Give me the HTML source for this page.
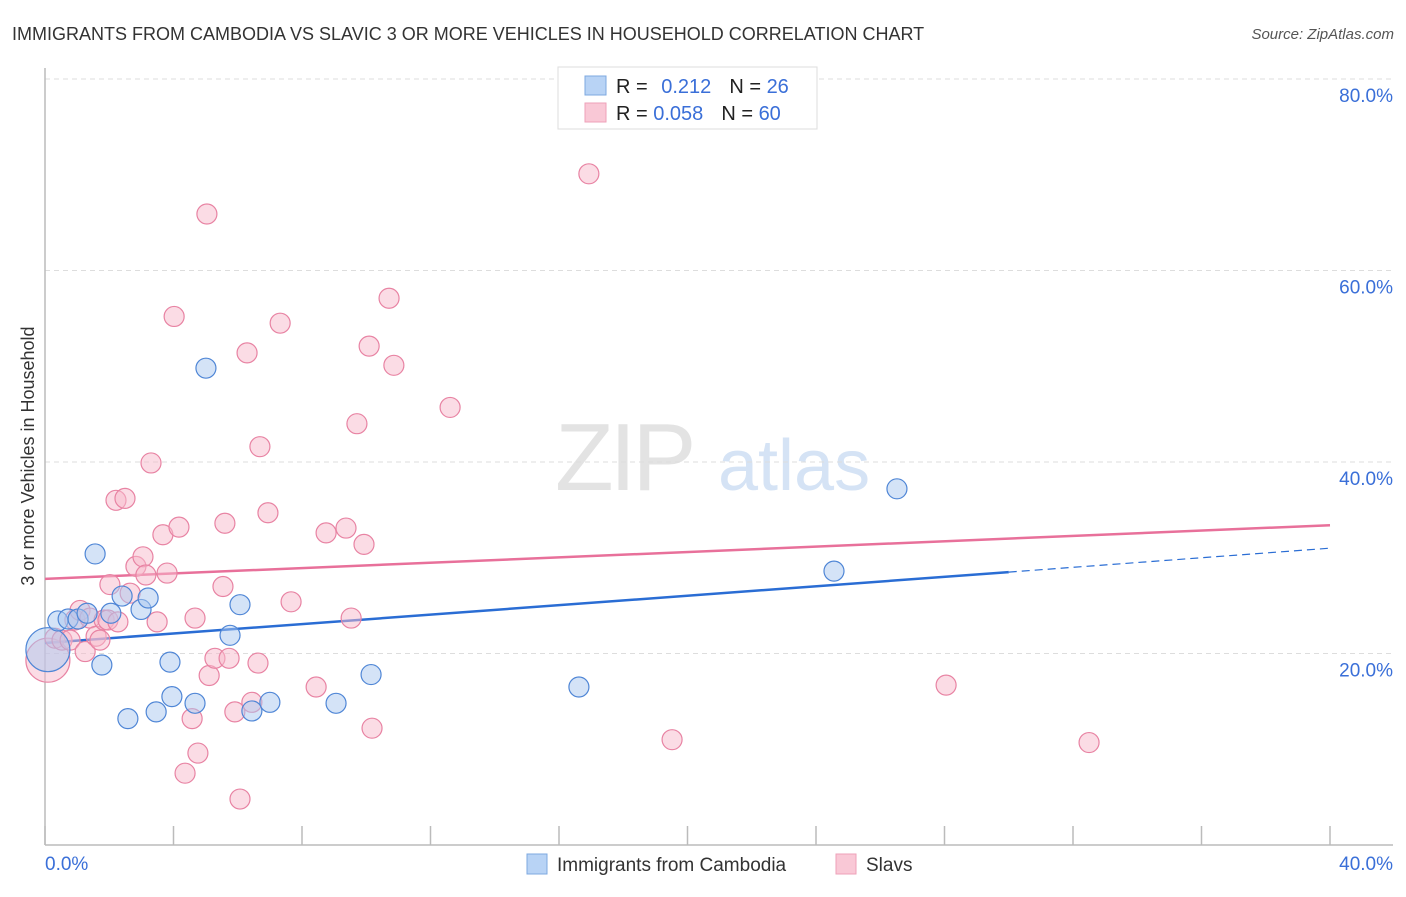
<!DOCTYPE html>
<html><head><meta charset="utf-8"><style>
body{margin:0;background:#fff;font-family:"Liberation Sans",sans-serif}
svg text{font-family:"Liberation Sans",sans-serif}
</style></head><body>
<svg id="c" width="1406" height="892">
<text x="12" y="40" font-size="18" fill="#333">IMMIGRANTS FROM CAMBODIA VS SLAVIC 3 OR MORE VEHICLES IN HOUSEHOLD CORRELATION CHART</text>
<text x="1394" y="39" font-size="15" fill="#555" text-anchor="end" font-style="italic">Source: ZipAtlas.com</text>
<g><text x="555" y="490" font-size="96" fill="#e3e3e3" font-family="Liberation Serif" letter-spacing="-4">ZIP</text><text x="718" y="490" font-size="72" fill="#d5e3f5">atlas</text></g>
<g id="grid"></g><g id="axes"></g><g id="lines"></g><g id="pts"></g>
<text transform="translate(34,456) rotate(-90)" font-size="18" fill="#333" text-anchor="middle">3 or more Vehicles in Household</text>
<g>
<rect x="558" y="67" width="259" height="62" fill="#fff" stroke="#ddd"/>
<rect x="585" y="76" width="21" height="19" fill="#b8d3f5" stroke="#7ea8e0"/>
<rect x="585" y="103" width="21" height="19" fill="#f9c8d6" stroke="#eea1b8"/>
<text x="616" y="93" font-size="20" fill="#222">R = <tspan fill="#3a6fd8" dx="8">0.212</tspan><tspan dx="18" fill="#222">N = </tspan><tspan fill="#3a6fd8">26</tspan></text>
<text x="616" y="120" font-size="20" fill="#222">R = <tspan fill="#3a6fd8">0.058</tspan><tspan dx="18" fill="#222">N = </tspan><tspan fill="#3a6fd8">60</tspan></text>
</g>
<g>
<rect x="527" y="854" width="20" height="20" fill="#b8d3f5" stroke="#7ea8e0"/>
<text x="557" y="871" font-size="19" fill="#333">Immigrants from Cambodia</text>
<rect x="836" y="854" width="20" height="20" fill="#f9c8d6" stroke="#eea1b8"/>
<text x="866" y="871" font-size="19" fill="#333">Slavs</text>
</g>
</svg>
<script>
const blueX=[0.09,0.40,0.72,1.03,1.31,1.56,1.77,2.05,2.40,2.58,2.99,3.21,3.46,3.89,3.95,4.67,5.01,5.76,6.07,6.44,7.00,9.06,10.15,16.62,24.56,26.52];
const blueY=[20.4,23.4,23.6,23.6,24.2,30.4,18.8,24.2,26.0,13.2,24.6,25.8,13.9,19.1,15.5,14.8,49.8,21.9,25.1,14.0,14.9,14.8,17.8,16.5,28.6,37.2];
const pinkX=[0.09,0.31,0.53,0.78,0.93,1.09,1.25,1.40,1.59,1.71,1.84,1.96,2.02,2.21,2.27,2.49,2.65,2.83,3.05,3.14,3.30,3.49,3.67,3.80,4.02,4.17,4.36,4.58,4.67,4.76,5.04,5.11,5.29,5.54,5.60,5.73,5.91,6.07,6.29,6.44,6.63,6.69,6.94,7.32,7.66,8.44,8.75,9.37,9.53,9.71,9.93,10.09,10.18,10.71,10.86,12.61,16.93,19.52,28.05,32.50];
const pinkY=[19.3,21.6,21.4,21.4,23.5,24.5,20.2,23.7,21.8,21.4,23.5,23.5,27.2,36.0,23.3,36.2,26.3,29.1,30.1,28.2,39.9,23.3,32.4,28.4,55.2,33.2,7.5,13.2,23.7,9.6,65.9,17.7,19.5,27.0,33.6,19.5,13.9,4.8,51.4,14.9,19.0,41.6,34.7,54.5,25.4,16.5,32.6,33.1,23.7,44.0,31.4,52.1,12.2,57.1,50.1,45.7,70.1,11.0,16.7,10.7];
const yTicks=[20,40,60,80];
const yTickLabels=["20.0%","40.0%","60.0%","80.0%"];
const xTicks=[0,4,8,12,16,20,24,28,32,36,40];
const blueTrend=[21.1,28.5,31.0]; // at x=0, 30, 40
const pinkTrend=[27.8,33.4]; // at x=0, 40
const X=v=>45+v/40*1285, Y=v=>845-v/20*191.5;
const NS="http://www.w3.org/2000/svg";
function mk(p,t,a){const e=document.createElementNS(NS,t);for(const k in a)e.setAttribute(k,a[k]);document.getElementById(p).appendChild(e);return e;}
yTicks.forEach((t,i)=>{
 let l=mk('grid','line',{x1:45,x2:1393,y1:Y(t),y2:Y(t),stroke:'#ddd','stroke-dasharray':'5,4'});
 
 
 let tx=mk('grid','text',{x:1393,y:Y(t)+23,'font-size':19,fill:'#3a6fd8','text-anchor':'end'});tx.textContent=yTickLabels[i];
 
 
});
let ax=mk('axes','line',{x1:45,x2:45,y1:68,y2:845,stroke:'#bbb','stroke-width':1.5});


let bx=mk('axes','line',{x1:45,x2:1393,y1:845,y2:845,stroke:'#bbb','stroke-width':1.5});


xTicks.forEach(t=>{let l=mk('axes','line',{x1:X(t),x2:X(t),y1:826,y2:845,stroke:'#bbb','stroke-width':1.5});
 
 });
let x0=mk('axes','text',{x:45,y:870,'font-size':19,fill:'#3a6fd8'});x0.textContent='0.0%';


let x1=mk('axes','text',{x:1393,y:870,'font-size':19,fill:'#3a6fd8','text-anchor':'end'});x1.textContent='40.0%';


function pts(xs,ys,fill,stroke,name){xs.forEach((x,i)=>{const r=i===0?22:10;
 const c=mk('pts','circle',{cx:X(x),cy:Y(ys[i]),r:r,fill:fill,'fill-opacity':0.5,stroke:stroke,'stroke-width':1.2});
 
 });}
pts(pinkX,pinkY,'#f7b9cc','#e883a3','slavs-point');
pts(blueX,blueY,'#a9c8f0','#4f86d6','cambodia-point');
let pl=mk('lines','line',{x1:X(0),y1:Y(pinkTrend[0]),x2:X(40),y2:Y(pinkTrend[1]),stroke:'#e8709a','stroke-width':2.5});


let bl=mk('lines','line',{x1:X(0),y1:Y(blueTrend[0]),x2:X(30),y2:Y(blueTrend[1]),stroke:'#2a6dd4','stroke-width':2.5});


let bd=mk('lines','line',{x1:X(30),y1:Y(blueTrend[1]),x2:X(40),y2:Y(blueTrend[2]),stroke:'#2a6dd4','stroke-width':1.2,'stroke-dasharray':'8,5'});


</script>
</body></html>
